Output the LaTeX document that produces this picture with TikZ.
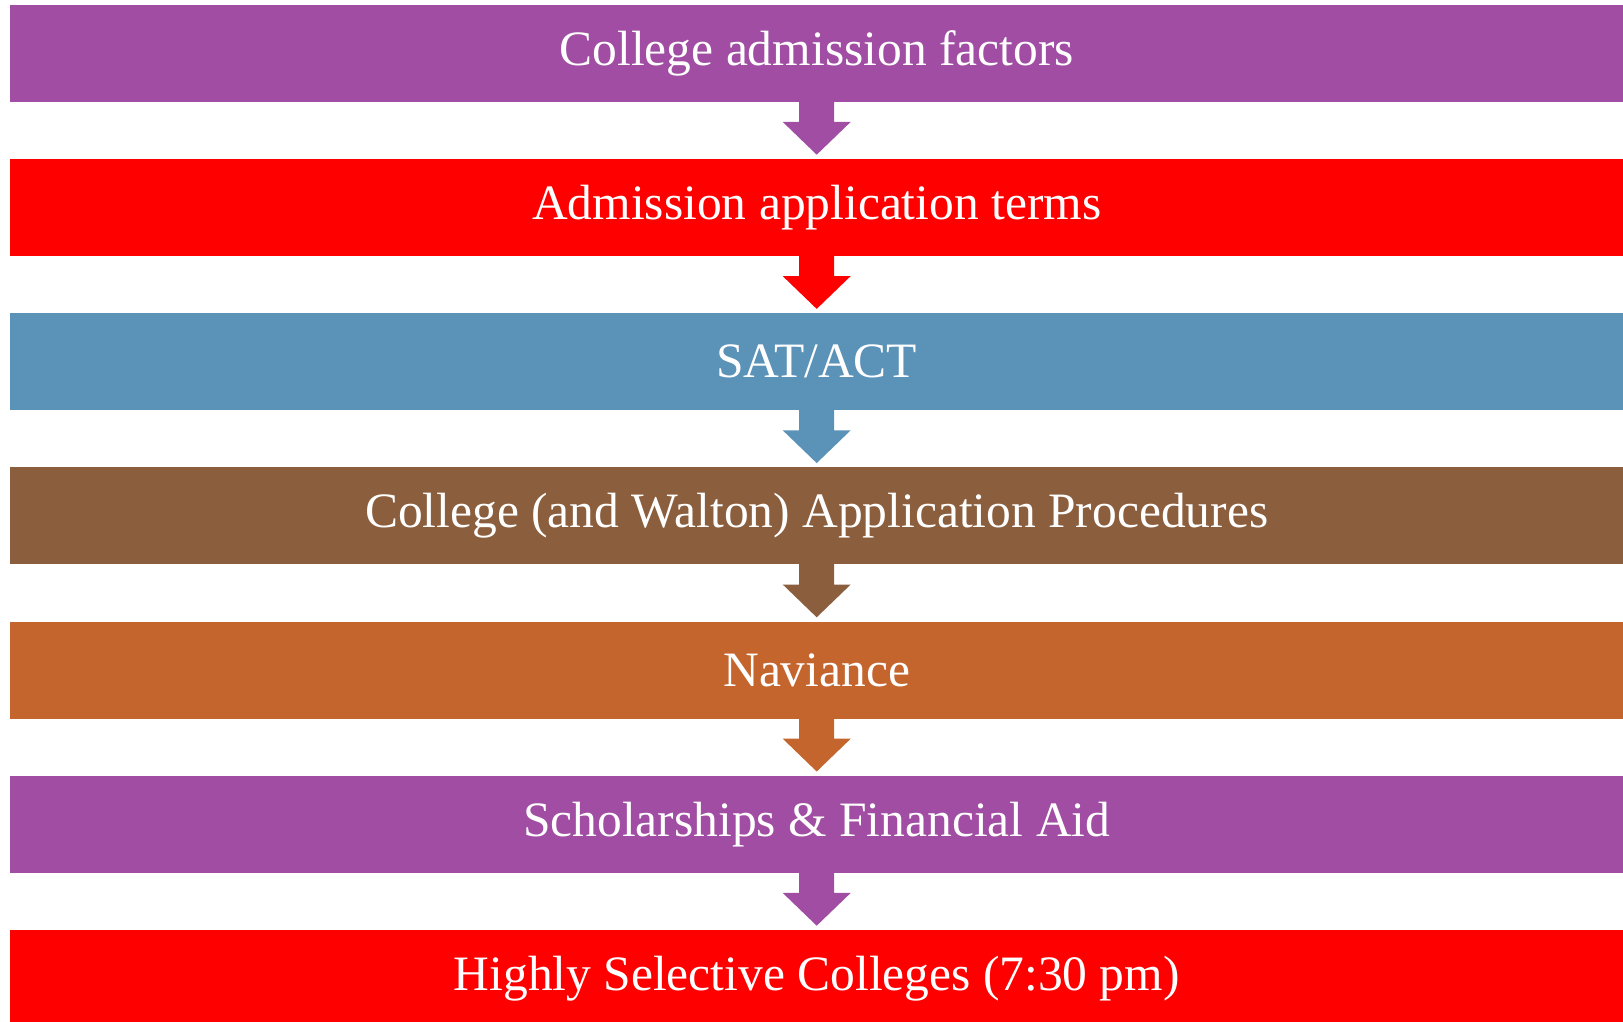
\documentclass[tikz,border=0pt]{standalone}
\usepackage{fontspec}
\setmainfont{Liberation Serif}
\usetikzlibrary{calc}
\definecolor{cPurple}{RGB}{160,77,163}
\definecolor{cRed}{RGB}{255,0,0}
\definecolor{cBlue}{RGB}{91,146,184}
\definecolor{cBrown}{RGB}{139,94,62}
\definecolor{cOrange}{RGB}{197,101,46}
\tikzset{
  bar/.style={rectangle, anchor=north west, minimum width=1613pt, minimum height=97pt,
    inner sep=0pt, text=white, font=\fontsize{49.5}{58}\selectfont},
}
\newcommand\flowarrow[3]{%
  \fill[#3] ($(#1.south)+(-17.5,1)$) -- ++(0,-21) -- ++(-16.5,0)
    -- ($(#2.north)+(0,4)$) -- ($(#1.south)+(34,-20)$) -- ++(-16.5,0)
    -- ++(0,21) -- cycle;}
\begin{document}
\begin{tikzpicture}[x=1pt,y=1pt]
\useasboundingbox (0,0) rectangle (1623,-1022);
\clip (0,0) rectangle (1623,-1022);
\node[bar, fill=cPurple] (b1) at (10,-4.5) {College admission factors};
\node[bar, fill=cRed]    (b2) at (10,-158.7) {Admission application terms};
\node[bar, fill=cBlue]   (b3) at (10,-312.9) {SAT/ACT};
\node[bar, fill=cBrown]  (b4) at (10,-467.1) {College (and Walton) Application Procedures};
\node[bar, fill=cOrange] (b5) at (10,-621.3) {Naviance};
\node[bar, fill=cPurple] (b6) at (10,-775.5) {Scholarships \& Financial Aid};
\node[bar, fill=cRed]    (b7) at (10,-929.7) {Highly Selective Colleges (7:30 pm)};
\flowarrow{b1}{b2}{cPurple}
\flowarrow{b2}{b3}{cRed}
\flowarrow{b3}{b4}{cBlue}
\flowarrow{b4}{b5}{cBrown}
\flowarrow{b5}{b6}{cOrange}
\flowarrow{b6}{b7}{cPurple}
\end{tikzpicture}
\end{document}
